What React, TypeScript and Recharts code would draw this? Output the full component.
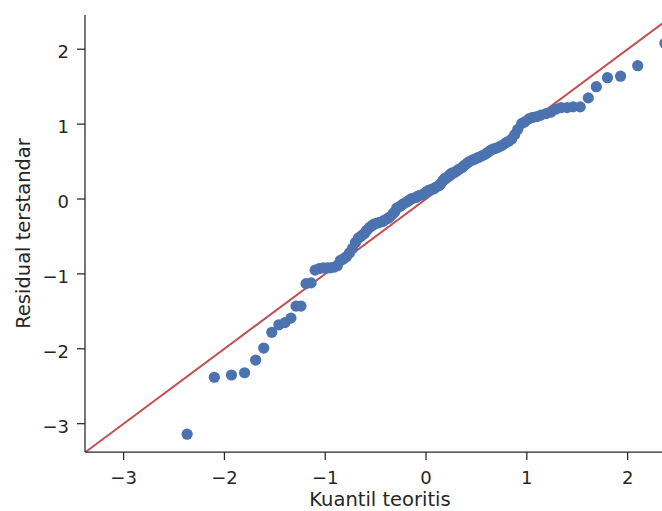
import { ScatterChart, Scatter, XAxis, YAxis, ReferenceLine } from 'recharts';

const quantiles = [
    -2.37, -2.10, -1.93, -1.80, -1.69, -1.61, -1.53, -1.46, -1.40, -1.34,
    -1.29, -1.24, -1.19, -1.14, -1.10, -1.06, -1.02, -0.98, -0.95, -0.91,
    -0.88, -0.85, -0.82, -0.79, -0.76, -0.73, -0.70, -0.67, -0.64, -0.61,
    -0.59, -0.56, -0.53, -0.51, -0.48, -0.46, -0.43, -0.41, -0.38, -0.36,
    -0.33, -0.31, -0.29, -0.26, -0.24, -0.22, -0.19, -0.17, -0.15, -0.13,
    -0.10, -0.08, -0.06, -0.03, -0.01, 0.01, 0.03, 0.06, 0.08, 0.10,
    0.13, 0.15, 0.17, 0.19, 0.22, 0.24, 0.26, 0.29, 0.31, 0.33,
    0.36, 0.38, 0.41, 0.43, 0.46, 0.48, 0.51, 0.53, 0.56, 0.59,
    0.61, 0.64, 0.67, 0.70, 0.73, 0.76, 0.79, 0.82, 0.85, 0.88,
    0.91, 0.95, 0.98, 1.02, 1.06, 1.10, 1.14, 1.19, 1.24, 1.29,
    1.34, 1.40, 1.46, 1.53, 1.61, 1.69, 1.80, 1.93, 2.10, 2.37,
];

// standardized residuals, sorted
const residuals = [
    -3.14, -2.38, -2.35, -2.32, -2.15, -1.99, -1.78, -1.68, -1.65, -1.59,
    -1.43, -1.43, -1.13, -1.12, -0.95, -0.93, -0.92, -0.92, -0.92, -0.91,
    -0.89, -0.82, -0.80, -0.77, -0.72, -0.66, -0.58, -0.52, -0.49, -0.46,
    -0.42, -0.38, -0.35, -0.33, -0.32, -0.31, -0.30, -0.28, -0.26, -0.24,
    -0.20, -0.17, -0.12, -0.10, -0.08, -0.06, -0.04, -0.02, 0.00, 0.01,
    0.02, 0.04, 0.05, 0.06, 0.08, 0.10, 0.12, 0.13, 0.14, 0.16,
    0.18, 0.21, 0.25, 0.28, 0.30, 0.33, 0.35, 0.36, 0.38, 0.40,
    0.42, 0.45, 0.48, 0.50, 0.52, 0.53, 0.55, 0.56, 0.58, 0.60,
    0.62, 0.65, 0.67, 0.68, 0.70, 0.72, 0.75, 0.77, 0.80, 0.86,
    0.93, 1.01, 1.03, 1.07, 1.09, 1.10, 1.12, 1.14, 1.16, 1.20,
    1.22, 1.22, 1.23, 1.23, 1.35, 1.50, 1.62, 1.64, 1.78, 2.08,
];

const xTicks = [-3, -2, -1, 0, 1, 2];
const yTicks = [-3, -2, -1, 0, 1, 2];

const points = quantiles.map((q, i) => ({ x: q, y: residuals[i] }));

const ink = '#262626';
const font = 'DejaVu Sans';
const fmt = (v: number) => (v < 0 ? `\u2212${Math.abs(v)}` : `${v}`);

const XTick = ({ x, y, payload }: any) => (
    <text x={x} y={y} dy="0.71em" textAnchor="middle" fill={ink} fontSize={18} fontFamily={font}>
        {fmt(payload.value)}
    </text>
);

const YTick = ({ x, y, payload }: any) => (
    <text x={x} y={y} dy="0.5em" textAnchor="end" fill={ink} fontSize={18} fontFamily={font}>
        {fmt(payload.value)}
    </text>
);

const Dot = ({ cx, cy }: any) => <circle cx={cx} cy={cy} r={5.6} fill="#4C72B0" />;

export default function App() {
    return (
        <div style={{ position: 'absolute', left: 0, top: 0, width: 662, height: 511, overflow: 'hidden', background: '#fff' }}>
            <ScatterChart width={675} height={511} margin={{ top: 15, right: 0, bottom: 0, left: 0 }}>
                <XAxis
                    type="number"
                    dataKey="x"
                    domain={[-3.383, 2.47]}
                    allowDataOverflow
                    ticks={xTicks}
                    tick={<XTick />}
                    height={59}
                    tickSize={8}
                    tickMargin={11}
                    stroke={ink}
                    strokeWidth={1.25}
                    label={{ value: 'Kuantil teoritis', position: 'insideBottom', offset: 5, fill: ink, fontSize: 19.5, fontFamily: font }}
                />
                <YAxis
                    type="number"
                    dataKey="y"
                    domain={[-3.378, 2.457]}
                    allowDataOverflow
                    ticks={yTicks}
                    tick={<YTick />}
                    width={85}
                    tickSize={8}
                    tickMargin={8}
                    stroke={ink}
                    strokeWidth={1.25}
                    label={{ value: 'Residual terstandar', angle: -90, position: 'insideLeft', offset: 23, fill: ink, fontSize: 19.5, fontFamily: font, style: { textAnchor: 'middle' } }}
                />
                <Scatter data={points} shape={<Dot />} isAnimationActive={false} />
                <ReferenceLine
                    segment={[{ x: -3.383, y: -3.383 }, { x: 2.47, y: 2.47 }]}
                    stroke="#C44E52"
                    strokeWidth={2}
                    ifOverflow="hidden"
                />
            </ScatterChart>
        </div>
    );
}
